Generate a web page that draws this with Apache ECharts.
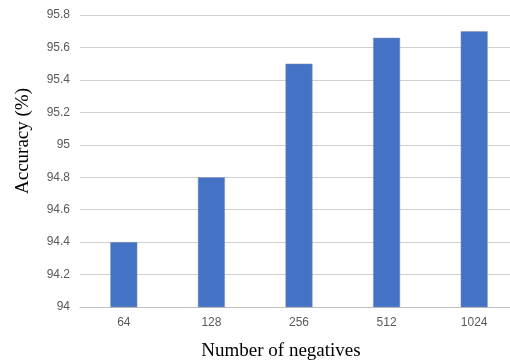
<!DOCTYPE html>
<html><head><meta charset="utf-8">
<script src="https://cdn.jsdelivr.net/npm/echarts@6/dist/echarts.min.js"></script>
<style>html,body{margin:0;padding:0;background:#fff}#c{width:510px;height:360px}</style>
</head><body><div id="c"></div>
<script>
var categories = ['64', '128', '256', '512', '1024'];
var accuracy = [94.4, 94.8, 95.5, 95.66, 95.7];
var xTitle = 'Number of negatives';
var yTitle = 'Accuracy (%)';
var serif = '"Liberation Serif", "Times New Roman", serif';
var narrow = '"Liberation Sans Narrow", "Arial Narrow", sans-serif';
var chart = echarts.init(document.getElementById('c'), null, {renderer: 'canvas'});
chart.setOption({
  animation: false,
  grid: {left: 80, top: 15, width: 438, height: 292, outerBoundsMode: 'none', containLabel: false},
  xAxis: {
    type: 'category', data: categories,
    axisLine: {lineStyle: {color: '#bfbfbf', width: 1}},
    axisTick: {show: false},
    axisLabel: {color: '#595959', fontSize: 12, fontFamily: narrow, margin: 10}
  },
  yAxis: {
    type: 'value', min: 94, max: 95.8, interval: 0.2,
    axisLine: {show: false}, axisTick: {show: false},
    splitLine: {lineStyle: {color: '#d0d0d0', width: 1}},
    axisLabel: {color: '#595959', fontSize: 12, fontFamily: narrow, margin: 10,
      formatter: function (v) { return String(Math.round(v * 10) / 10); }}
  },
  graphic: [
    {type: 'text', x: 281, y: 351,
     style: {text: xTitle, fontSize: 19, fontFamily: serif, fill: '#000', align: 'center', verticalAlign: 'middle'}},
    {type: 'text', x: 23, y: 141, rotation: Math.PI / 2,
     style: {text: yTitle, fontSize: 19, fontFamily: serif, fill: '#000', align: 'center', verticalAlign: 'middle'}}
  ],
  series: [{
    type: 'bar', data: accuracy, barWidth: 27,
    itemStyle: {color: '#4472C4', borderColor: '#8a97b0', borderWidth: 0.5}
  }]
});
</script></body></html>
